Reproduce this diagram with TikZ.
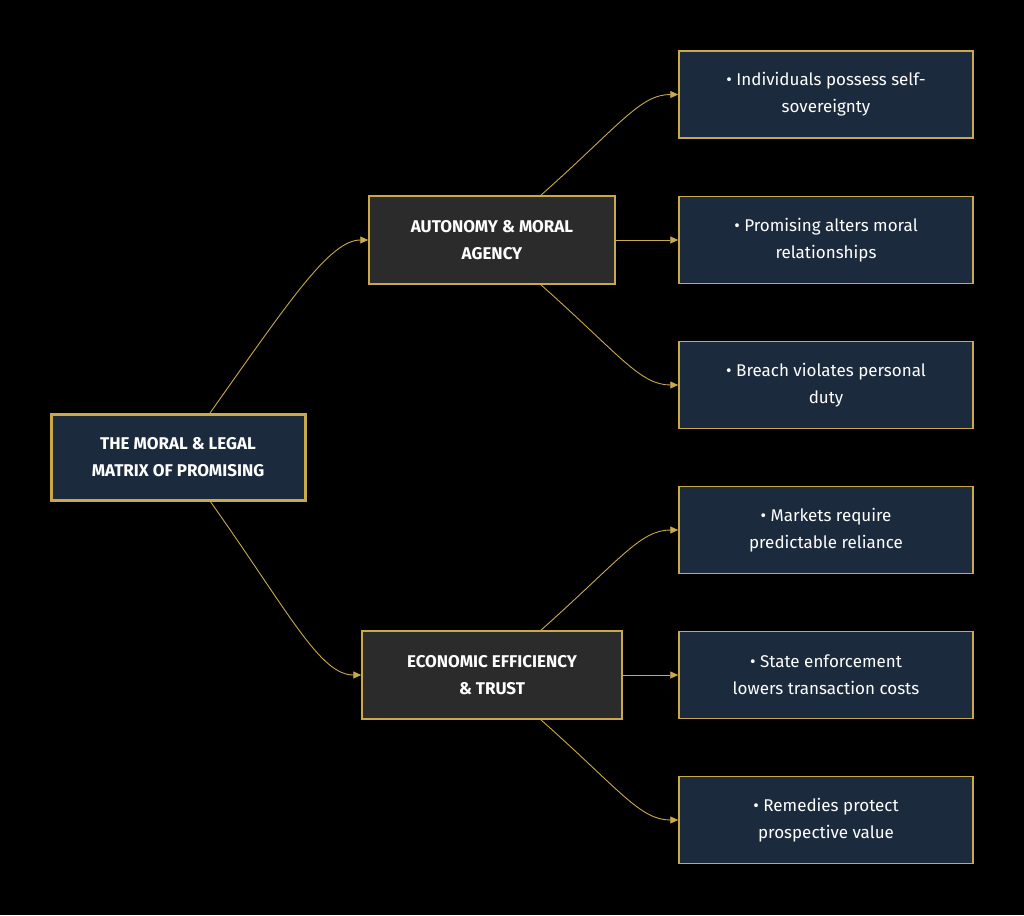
\documentclass[tikz,border=0pt]{standalone}
\usepackage{fontspec}
\setmainfont{Fira Sans}
\usetikzlibrary{arrows.meta}
\definecolor{gold}{HTML}{C9A94A}
\definecolor{navy}{HTML}{1C2A3D}
\definecolor{mid}{HTML}{2B2B2B}
\begin{document}
\begin{tikzpicture}[x=1pt,y=-1pt,
 box/.style={draw=gold,line width=1.5pt,text=white,align=center,inner sep=0pt,font=\fontsize{17}{27}\selectfont},
 root/.style={box,fill=navy,line width=3pt,minimum width=254pt,minimum height=86pt,font=\fontsize{17}{27}\selectfont\bfseries},
 cat/.style={box,fill=mid,minimum height=88pt,font=\fontsize{17}{27}\selectfont\bfseries},
 leaf/.style={box,fill=navy,minimum width=294pt,minimum height=87pt},
 edge/.style={draw=gold,line width=0.9pt,-{Triangle[length=8pt,width=7pt]}}]
\useasboundingbox[fill=black] (0,0) rectangle (1024,915);
\node[root] (r) at (178,457) {THE MORAL \& LEGAL\\MATRIX OF PROMISING};
\node[cat,minimum width=246pt] (a) at (492,240) {AUTONOMY \& MORAL\\AGENCY};
\node[cat,minimum width=260pt] (e) at (492,675) {ECONOMIC EFFICIENCY\\\& TRUST};
\node[leaf] (l1) at (826,94.5) {• Individuals possess self-\\sovereignty};
\node[leaf] (l2) at (826,240) {• Promising alters moral\\relationships};
\node[leaf] (l3) at (826,385) {• Breach violates personal\\duty};
\node[leaf] (l4) at (826,530) {• Markets require\\predictable reliance};
\node[leaf] (l5) at (826,675) {• State enforcement\\lowers transaction costs};
\node[leaf] (l6) at (826,820) {• Remedies protect\\prospective value};
\draw[edge] (210,413) .. controls (290,300) and (330,240) .. (a.west);
\draw[edge] (210,501) .. controls (290,614) and (320,675) .. (e.west);
\draw[edge] (540,196) .. controls (620,125) and (640,94.5) .. (l1.west);
\draw[edge] (a.east) -- (l2.west);
\draw[edge] (540,284) .. controls (620,355) and (640,385) .. (l3.west);
\draw[edge] (540,631) .. controls (620,560) and (640,530) .. (l4.west);
\draw[edge] (e.east) -- (l5.west);
\draw[edge] (540,719) .. controls (620,790) and (640,820) .. (l6.west);
\end{tikzpicture}
\end{document}
